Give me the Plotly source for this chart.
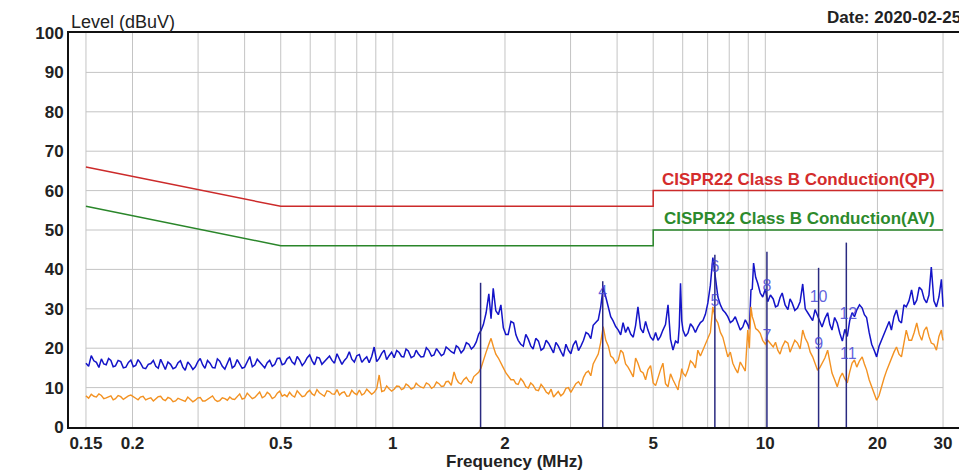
import numpy as np
import plotly.graph_objects as go

# ---------------- data ----------------
FREQ_MHZ = [
    0.150, 0.155, 0.160, 0.165, 0.170, 0.175, 0.180, 0.186, 0.192, 0.198,
    0.204, 0.210, 0.217, 0.224, 0.231, 0.238, 0.245, 0.253, 0.261, 0.269,
    0.277, 0.286, 0.295, 0.304, 0.313, 0.323, 0.333, 0.343, 0.354, 0.365,
    0.376, 0.388, 0.400, 0.413, 0.426, 0.439, 0.453, 0.467, 0.482, 0.497,
    0.512, 0.528, 0.545, 0.562, 0.580, 0.598, 0.616, 0.635, 0.655, 0.676,
    0.697, 0.719, 0.741, 0.764, 0.788, 0.813, 0.838, 0.864, 0.891, 0.919,
    0.948, 0.977,
    1.008, 1.04, 1.07, 1.10, 1.14, 1.17, 1.21, 1.25, 1.29, 1.33,
    1.37, 1.41, 1.46, 1.50, 1.55, 1.60, 1.65, 1.70, 1.75, 1.81,
    1.86, 1.92, 1.98,
    2.04, 2.11, 2.17, 2.24, 2.31, 2.38, 2.46, 2.54, 2.62, 2.70,
    2.78, 2.87, 2.96, 3.05, 3.15, 3.25, 3.35, 3.45, 3.56, 3.67,
    3.79, 3.90, 4.03, 4.15, 4.28, 4.42, 4.55, 4.70, 4.84, 5.00,
    5.15, 5.31, 5.48, 5.65, 5.83, 5.92, 6.01, 6.20, 6.39, 6.59,
    6.80, 7.01, 7.23, 7.46, 7.69, 7.93, 8.18, 8.43, 8.70, 8.97,
    9.15, 9.30, 9.54, 9.84,
    10.15, 10.5, 10.8, 11.1, 11.5, 11.8, 12.2, 12.6, 13.0, 13.4,
    13.8, 14.2, 14.7, 15.1, 15.6, 16.1, 16.6, 17.1, 17.6, 18.2,
    18.7, 19.3, 19.9, 20.5, 21.2, 21.8, 22.5, 23.2, 23.9, 24.7,
    25.5, 26.3, 27.1, 27.9, 28.8, 29.7, 30.0,
]

PEAK_DBUV = [
    16.2, 18.1, 16.4, 17.3, 15.8, 16.9, 15.5, 16.6, 15.2, 17.0,
    15.6, 16.3, 14.8, 16.1, 15.4, 17.2, 14.6, 15.9, 15.1, 16.8,
    14.4, 15.7, 15.3, 17.4, 14.9, 16.2, 15.0, 16.7, 14.7, 17.6,
    15.5, 16.0, 15.2, 17.9, 15.8, 16.4, 15.0, 16.9, 15.9, 17.5,
    16.1, 17.8, 15.9, 17.0, 16.4, 18.3, 15.8, 17.5, 16.6, 18.0,
    16.2, 17.3, 16.9, 19.1, 16.5, 18.4, 17.2, 16.3, 20.3, 17.4,
    19.5, 18.1,
    17.6, 18.9, 17.8, 19.3, 18.0, 18.6, 17.9, 19.4, 18.3, 19.0,
    18.5, 19.8, 18.7, 20.2, 19.6, 21.0, 20.4, 23.6, 26.0, 33.8,
    35.2, 28.5, 25.2,
    23.5, 26.4, 22.0, 20.5, 22.3, 19.8, 21.8, 20.0, 21.2, 18.8,
    20.6, 17.9, 19.5, 20.8, 19.4, 22.0, 23.6, 25.8, 27.2, 35.5,
    30.0, 27.0, 24.6, 26.5, 25.4, 22.8, 30.5, 23.9, 24.6, 22.0,
    22.0, 24.6, 31.0, 19.5, 21.3, 36.5, 24.6, 23.9, 25.4, 25.4,
    27.0, 31.5, 43.0, 33.0, 29.7, 28.0, 27.0, 26.4, 25.4, 26.0,
    34.8, 41.6, 36.5, 33.0,
    31.8, 32.5, 30.8, 34.0, 29.8, 31.5, 30.2, 36.3, 29.0, 27.0,
    28.2, 25.4, 29.0, 24.6, 26.4, 21.8, 23.0, 29.0, 29.7, 30.2,
    27.8, 21.0, 17.8, 22.0, 25.4, 24.6, 29.7, 26.4, 30.5, 34.8,
    32.2, 34.8, 31.5, 40.6, 30.5, 37.5, 30.5,
]

AVG_DBUV = [
    7.9, 8.3, 7.6, 8.0, 7.4, 7.9, 7.2, 7.7, 7.5, 8.1,
    7.3, 7.6, 6.9, 7.4, 7.1, 7.8, 6.7, 7.2, 6.6, 7.0,
    6.5, 7.1, 6.8, 7.5, 6.6, 7.3, 6.9, 6.7, 7.2, 7.6,
    7.0, 8.4, 7.3, 8.0, 7.5, 8.9, 7.8, 8.3, 7.6, 9.1,
    8.2, 8.8, 7.6, 8.4, 7.9, 9.3, 8.0, 8.7, 7.8, 9.0,
    8.3, 8.1, 8.9, 7.9, 8.6, 9.4, 8.5, 9.0, 8.8, 13.2,
    9.2, 9.7,
    9.6, 10.3, 9.8, 10.5, 10.0, 10.6, 9.9, 10.8, 10.2, 11.0,
    10.4, 11.6, 14.0, 11.3, 12.0, 11.6, 12.8, 13.9, 17.0, 21.0,
    20.5, 17.5, 15.0,
    13.0, 12.0, 10.8, 11.5, 9.9, 10.6, 9.2, 10.0, 8.4, 7.6,
    9.0, 8.5, 10.0, 9.8, 11.5, 12.6, 14.2, 16.0, 18.5, 25.5,
    20.5, 17.5, 17.0, 18.8, 15.2, 12.7, 16.2, 13.7, 14.5, 11.2,
    12.7, 16.2, 10.2, 12.0, 9.4, 12.5, 13.7, 14.5, 16.2, 19.5,
    19.5, 22.8, 30.5, 26.4, 22.8, 17.8, 16.2, 13.7, 15.2, 24.6,
    30.5, 27.0, 24.6, 22.0,
    22.0, 20.3, 19.5, 20.3, 21.3, 20.3, 21.3, 24.6, 21.3, 17.8,
    14.5, 16.2, 19.5, 13.7, 10.2, 13.7, 11.2, 16.2, 15.2, 17.8,
    14.5, 10.2, 6.8, 10.2, 14.5, 17.8, 20.3, 17.8, 24.6, 22.0,
    26.4, 22.0, 25.4, 21.3, 19.5, 24.6, 22.0,
]

# further readings taken between the points above (the trace is very noisy)
FREQ_MID_MHZ = [
    0.1525, 0.1575, 0.1625, 0.1675, 0.1725, 0.1775, 0.183, 0.189, 0.195, 0.201,
    0.207, 0.2135, 0.2205, 0.2275, 0.2345, 0.2415, 0.249, 0.257, 0.265, 0.273,
    0.2815, 0.2905, 0.2995, 0.3085, 0.318, 0.328, 0.338, 0.3485, 0.3595, 0.3705,
    0.382, 0.394, 0.4065, 0.4195, 0.4325, 0.446, 0.460, 0.4745, 0.4895, 0.5045,
    0.520, 0.5365, 0.5535, 0.571, 0.589, 0.607, 0.6255, 0.645, 0.6655, 0.6865,
    0.708, 0.730, 0.7525, 0.776, 0.8005, 0.8255, 0.851, 0.8775, 0.905, 0.9335,
    0.9625, 0.9925,
    1.024, 1.055, 1.085, 1.12, 1.155, 1.19, 1.23, 1.27, 1.31, 1.35,
    1.39, 1.435, 1.48, 1.525, 1.575, 1.625, 1.675, 1.725, 1.78, 1.835,
    1.89, 1.95, 2.01,
    2.075, 2.14, 2.205, 2.275, 2.345, 2.42, 2.50, 2.58, 2.66, 2.74,
    2.825, 2.915, 3.005, 3.10, 3.20, 3.30, 3.40, 3.505, 3.615, 3.73,
    3.845, 3.965, 4.09, 4.215, 4.35, 4.485, 4.625, 4.77, 4.92, 5.075,
    5.23, 5.395, 5.565, 5.74, 5.875, 5.965, 6.105, 6.295, 6.49, 6.695,
    6.905, 7.12, 7.345, 7.575, 7.81, 8.055, 8.305, 8.565, 8.835, 9.06,
    9.225, 9.42, 9.69, 10.0,
    10.32, 10.65, 10.95, 11.3, 11.65, 12.0, 12.4, 12.8, 13.2, 13.6,
    14.0, 14.45, 14.9, 15.35, 15.85, 16.35, 16.85, 17.35, 17.9, 18.45,
    19.0, 19.6, 20.2, 20.85, 21.5, 22.15, 22.85, 23.55, 24.3, 25.1,
    25.9, 26.7, 27.5, 28.35, 29.25, 29.85,
]

PEAK_MID_DBUV = [
    15.4, 16.8, 15.1, 16.0, 17.4, 15.3, 16.9, 15.0, 16.4, 15.3,
    17.1, 15.0, 15.9, 16.9, 14.9, 15.8, 16.5, 14.8, 16.3, 15.2,
    16.5, 14.6, 16.6, 15.8, 16.9, 15.1, 17.3, 15.4, 16.2, 15.0,
    17.1, 14.9, 16.7, 15.3, 17.2, 15.6, 16.3, 15.4, 17.4, 15.8,
    17.3, 16.5, 17.9, 15.6, 17.6, 16.8, 17.7, 15.9, 17.3, 16.9,
    18.6, 15.9, 17.6, 17.2, 18.1, 16.4, 17.8, 17.9, 16.6, 18.7,
    17.1, 19.0,
    19.4, 17.9, 19.8, 17.6, 19.5, 17.8, 20.1, 18.0, 19.9, 18.1,
    20.3, 19.1, 20.6, 18.8, 21.4, 19.8, 21.6, 24.5, 29.0, 27.5,
    29.5, 31.0, 23.5,
    26.8, 23.4, 21.0, 23.5, 20.6, 22.5, 19.5, 22.0, 19.9, 21.5,
    19.2, 21.0, 18.6, 21.9, 20.6, 24.0, 22.4, 26.5, 30.5, 33.0,
    28.0, 25.5, 23.4, 24.0, 23.6, 25.8, 25.0, 26.8, 22.8, 24.0,
    23.0, 26.0, 22.3, 21.8, 25.5, 27.0, 23.0, 26.2, 24.0, 26.5,
    28.6, 36.0, 38.5, 31.0, 29.0, 26.5, 28.0, 24.6, 27.2, 24.8,
    35.0, 38.0, 34.0, 35.0,
    33.5, 30.5, 32.8, 31.0, 32.5, 29.6, 31.8, 30.0, 28.0, 29.8,
    26.5, 27.5, 26.0, 27.8, 23.8, 24.8, 27.0, 28.0, 31.0, 28.5,
    24.0, 19.5, 20.5, 23.5, 26.8, 28.0, 27.0, 31.0, 32.0, 31.0,
    35.5, 32.5, 33.5, 32.0, 33.0, 31.5,
]

AVG_MID_DBUV = [
    7.3, 7.8, 8.4, 7.2, 7.7, 6.9, 8.0, 7.0, 7.9, 7.6,
    6.9, 7.8, 7.2, 6.6, 7.7, 7.0, 7.5, 6.4, 7.3, 6.8,
    7.6, 6.4, 7.4, 6.6, 7.0, 7.9, 6.5, 7.4, 6.8, 7.1,
    7.8, 7.1, 8.6, 7.2, 8.2, 7.4, 8.8, 7.2, 8.6, 7.8,
    7.7, 8.0, 9.2, 7.7, 8.8, 8.4, 9.5, 8.2, 9.2, 8.4,
    9.5, 8.7, 7.8, 9.3, 8.2, 8.1, 9.6, 8.3, 9.7, 9.0,
    10.4, 9.1,
    10.4, 9.5, 10.9, 9.6, 11.1, 10.1, 11.2, 9.8, 11.4, 10.3,
    11.5, 10.6, 12.2, 10.9, 12.6, 11.2, 13.4, 15.0, 19.0, 22.5,
    18.5, 16.0, 13.8,
    12.0, 11.0, 12.3, 10.2, 11.2, 9.4, 10.8, 8.9, 9.6, 8.3,
    7.9, 9.8, 8.8, 11.0, 10.5, 13.8, 13.0, 17.5, 21.5, 22.0,
    18.0, 16.2, 19.5, 16.0, 14.0, 17.5, 14.2, 12.0, 15.6, 10.5,
    14.5, 11.0, 13.5, 10.8, 11.5, 14.8, 12.9, 16.8, 15.0, 18.0,
    21.0, 24.0, 27.5, 24.0, 20.0, 19.0, 14.8, 16.5, 14.2, 20.0,
    28.0, 25.0, 23.8, 21.0,
    21.0, 21.5, 18.5, 21.8, 19.0, 22.0, 19.8, 22.5, 19.0, 16.0,
    15.0, 17.5, 16.0, 12.0, 12.5, 12.2, 14.0, 17.0, 16.8, 16.0,
    12.0, 8.5, 8.0, 12.5, 16.0, 19.0, 18.5, 21.5, 22.0, 24.0,
    23.5, 24.5, 23.0, 21.0, 23.0, 23.0,
]

QP_LIMIT_FREQ = [0.15, 0.5, 5.0, 5.0, 30.0]
QP_LIMIT_DBUV = [66, 56, 56, 60, 60]
AV_LIMIT_FREQ = [0.15, 0.5, 5.0, 5.0, 30.0]
AV_LIMIT_DBUV = [56, 46, 46, 50, 50]
QP_LABEL = "CISPR22 Class B Conduction(QP)"
AV_LABEL = "CISPR22 Class B Conduction(AV)"
QP_LABEL_LEVEL = 62.7
AV_LABEL_LEVEL = 53.0

MARKER_LINE_FREQ = [1.72, 3.66, 7.32, 10.1, 13.9, 16.5]
MARKER_LINE_TOP = [36.6, 37.0, 43.7, 44.5, 40.4, 46.8]
MARKER_TEXT = ["4", "6", "5", "8", "7", "10", "9", "12", "11"]
MARKER_TEXT_FREQ = [3.66, 7.32, 7.32, 10.1, 10.1, 13.9, 13.9, 16.7, 16.7]
MARKER_TEXT_LEVEL = [34.0, 40.4, 31.7, 35.5, 22.8, 32.7, 20.8, 28.4, 18.3]

X_TICK_VALS = [0.15, 0.2, 0.5, 1, 2, 5, 10, 20, 30]
X_TICK_TEXT = ["0.15", "0.2", "0.5", "1", "2", "5", "10", "20", "30"]
Y_TICK_VALS = [0, 10, 20, 30, 40, 50, 60, 70, 80, 90, 100]
GRID_FREQ = [0.15, 0.2, 0.3, 0.4, 0.5, 0.6, 0.7, 0.8, 0.9, 1, 2, 3, 4, 5,
             6, 7, 8, 9, 10, 20, 30]
GRID_LEVEL = [10, 20, 30, 40, 50, 60, 70, 80, 90]

FONT = "Liberation Sans"

# merge the two sets of readings in frequency order
rows = sorted(zip(FREQ_MHZ + FREQ_MID_MHZ,
                  PEAK_DBUV + PEAK_MID_DBUV,
                  AVG_DBUV + AVG_MID_DBUV))
freq_all = [r[0] for r in rows]
peak_all = [r[1] for r in rows]
avg_all = [r[2] for r in rows]

# ---------------- figure ----------------
fig = go.Figure()

gx, gy = [], []
for f in GRID_FREQ:
    gx += [f, f, None]
    gy += [0, 100, None]
for lv in GRID_LEVEL:
    gx += [GRID_FREQ[0], GRID_FREQ[-1], None]
    gy += [lv, lv, None]
fig.add_trace(go.Scatter(x=gx, y=gy, mode="lines",
                         line=dict(color="#c4c4c4", width=1),
                         hoverinfo="skip", showlegend=False))

fig.add_trace(go.Scatter(x=QP_LIMIT_FREQ, y=QP_LIMIT_DBUV, mode="lines",
                         line=dict(color="#cc2a2a", width=1.5), showlegend=False))
fig.add_trace(go.Scatter(x=AV_LIMIT_FREQ, y=AV_LIMIT_DBUV, mode="lines",
                         line=dict(color="#2a862a", width=1.5), showlegend=False))

fig.add_trace(go.Scatter(x=freq_all, y=peak_all, mode="lines",
                         line=dict(color="#1414c8", width=1.5), showlegend=False))
fig.add_trace(go.Scatter(x=freq_all, y=avg_all, mode="lines",
                         line=dict(color="#f39222", width=1.4), showlegend=False))

mx, my = [], []
for f, top in zip(MARKER_LINE_FREQ, MARKER_LINE_TOP):
    mx += [f, f, None]
    my += [0, top, None]
fig.add_trace(go.Scatter(x=mx, y=my, mode="lines",
                         line=dict(color="#2a2a80", width=1.5),
                         hoverinfo="skip", showlegend=False))

fig.add_trace(go.Scatter(x=MARKER_TEXT_FREQ, y=MARKER_TEXT_LEVEL, mode="text",
                         text=MARKER_TEXT, textposition="middle center",
                         textfont=dict(family=FONT, size=16, color="rgba(70,70,215,0.85)"),
                         showlegend=False))

fig.add_annotation(x=np.log10(QP_LIMIT_FREQ[-1]), y=QP_LABEL_LEVEL, xref="x", yref="y",
                   text=QP_LABEL, showarrow=False, xanchor="right", xshift=-6,
                   yanchor="middle",
                   font=dict(family=FONT, size=17, color="#d42c2c", weight="bold"))
fig.add_annotation(x=np.log10(AV_LIMIT_FREQ[-1]), y=AV_LABEL_LEVEL, xref="x", yref="y",
                   text=AV_LABEL, showarrow=False, xanchor="right", xshift=-6,
                   yanchor="middle",
                   font=dict(family=FONT, size=17, color="#2c8a2c", weight="bold"))

fig.add_annotation(x=0.0, y=1.028, xref="paper", yref="paper", text="Level (dBuV)",
                   showarrow=False, xanchor="left", yanchor="middle",
                   font=dict(family=FONT, size=18, color="#222222"))
fig.add_annotation(x=1.0034, y=1.040, xref="paper", yref="paper", text="Date: 2020-02-25",
                   showarrow=False, xanchor="right", yanchor="middle",
                   font=dict(family=FONT, size=17, color="#222222", weight="bold"))
fig.add_annotation(x=0.5, y=-0.0863, xref="paper", yref="paper", text="Frequency (MHz)",
                   showarrow=False, xanchor="center", yanchor="middle",
                   font=dict(family=FONT, size=17, color="#222222", weight="bold"))

x_lo = np.log10(GRID_FREQ[0]) - 17 / 373.3
x_hi = np.log10(GRID_FREQ[-1]) + 17 / 373.3

# the page body keeps its default 8 px margin, so the figure is 8 px smaller
fig.update_layout(
    width=959, height=467,
    margin=dict(l=61, r=5, t=25, b=48),
    paper_bgcolor="white", plot_bgcolor="white",
    xaxis=dict(type="log", range=[x_lo, x_hi], showgrid=False, zeroline=False,
               tickvals=X_TICK_VALS, ticktext=X_TICK_TEXT, ticks="",
               showline=True, mirror=True, linecolor="#111111", linewidth=2,
               tickfont=dict(family=FONT, size=17, color="#222222", weight="bold")),
    yaxis=dict(range=[0, 100], showgrid=False, zeroline=False,
               tickvals=Y_TICK_VALS, ticks="",
               showline=True, mirror=True, linecolor="#111111", linewidth=2,
               tickfont=dict(family=FONT, size=17, color="#222222", weight="bold")),
)

fig.write_html("out.html")
